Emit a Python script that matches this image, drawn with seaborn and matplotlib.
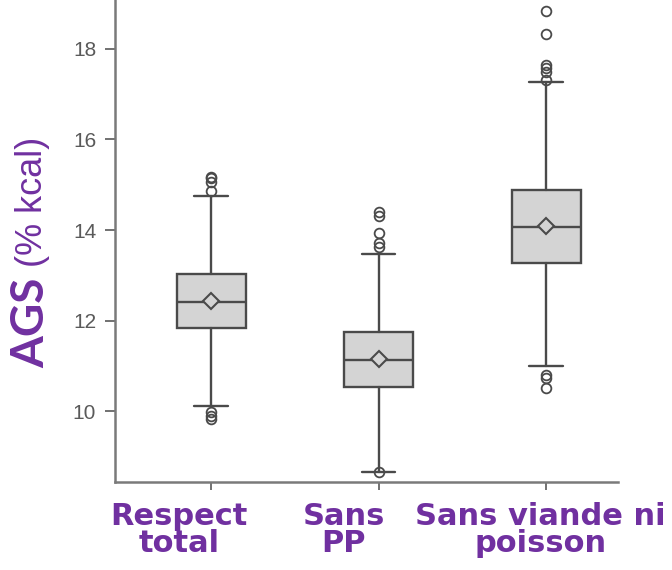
import matplotlib
matplotlib.use("Agg")
import matplotlib.pyplot as plt
import matplotlib.transforms as mtransforms
import seaborn as sns

# ==========================================
# DATA
# ==========================================
categories = ["Respect\ntotal", "Sans\nPP", "Sans viande ni\npoisson"]
q1 = [11.83, 10.53, 13.27]
median = [12.41, 11.13, 14.07]
q3 = [13.03, 11.75, 14.88]
whisker_low = [10.11, 8.65, 10.99]
whisker_high = [14.75, 13.47, 17.27]
means = [12.43, 11.15, 14.08]
outliers = [
    [14.86, 15.06, 15.15, 15.17, 9.98, 9.90, 9.82],
    [13.62, 13.71, 13.93, 14.31, 14.40, 8.65],
    [17.32, 17.50, 17.58, 17.65, 18.33, 18.84, 10.80, 10.73, 10.51],
]
y_ticks = [10, 12, 14, 16, 18]

PURPLE = "#7030a0"
EDGE = "#4a4a4a"

sns.set_style("white")

fig = plt.figure(figsize=(6.72, 5.70), dpi=100)
ax = fig.add_axes([0.171, 0.154, 0.749, 0.846])

stats = []
for i, lab in enumerate(categories):
    stats.append({
        "label": lab,
        "q1": q1[i], "med": median[i], "q3": q3[i],
        "whislo": whisker_low[i], "whishi": whisker_high[i],
        "mean": means[i], "fliers": outliers[i],
    })

ax.bxp(
    stats, positions=[0, 1, 2], widths=0.41, capwidths=0.2,
    showmeans=True, patch_artist=True,
    boxprops=dict(facecolor="#d4d4d4", edgecolor=EDGE, linewidth=1.7),
    medianprops=dict(color=EDGE, linewidth=1.7),
    whiskerprops=dict(color=EDGE, linewidth=1.7),
    capprops=dict(color=EDGE, linewidth=1.7),
    meanprops=dict(marker="D", markerfacecolor="#d4d4d4", markeredgecolor=EDGE,
                   markersize=8.5, markeredgewidth=1.5),
    flierprops=dict(marker="o", markerfacecolor="none", markeredgecolor=EDGE,
                    markersize=7, markeredgewidth=1.3),
)

ax.set_xlim(-0.575, 2.43)
ax.set_ylim(8.43, 19.08)
ax.set_yticks(y_ticks)
ax.set_yticklabels([str(t) for t in y_ticks], fontsize=15, color="#5a5a5a",
                   family="Liberation Sans")
ax.set_xticks([0, 1, 2])
ax.set_xticklabels(categories, fontsize=22, fontweight="bold", color=PURPLE,
                   family="DejaVu Sans", linespacing=0.93)
ax.tick_params(axis="y", length=7.5, width=1.3, color="#666666", pad=6, direction="out", left=True)
ax.tick_params(axis="x", length=6, width=1.3, color="#666666", pad=8, direction="out", bottom=True)

# labels in the original sit a little left of their ticks
label_shift_px = [-32, -35, -6]
for lab, dx in zip(ax.get_xticklabels(), label_shift_px):
    off = mtransforms.ScaledTranslation(dx / 100, 0, fig.dpi_scale_trans)
    lab.set_transform(lab.get_transform() + off)

sns.despine(ax=ax, top=True, right=True)
for s in ["left", "bottom"]:
    ax.spines[s].set_color("#7a7a7a")
    ax.spines[s].set_linewidth(1.8)

# y label: bold "AGS" + lighter "(% kcal)"
fig.text(0.046, 0.433, "AGS", rotation=90, ha="center", va="center",
         fontsize=33, fontweight="bold", color=PURPLE, family="Lato")
fig.text(0.048, 0.646, "(% kcal)", rotation=90, ha="center", va="center",
         fontsize=26, color=PURPLE, family="Liberation Sans")

fig.savefig("out.png", dpi=100)
